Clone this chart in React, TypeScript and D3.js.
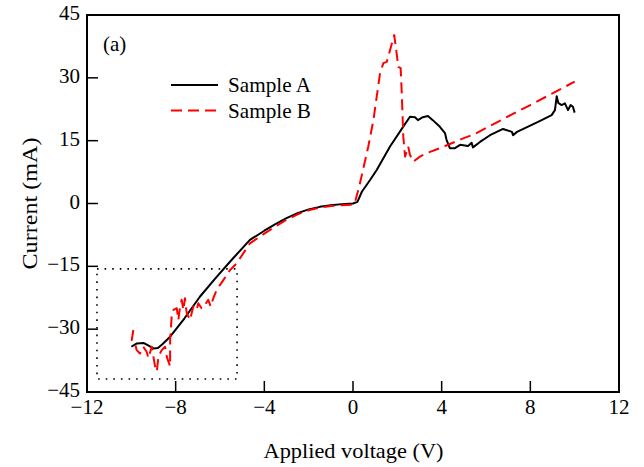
import React from "react";
import * as d3 from "d3";

const xTicks = [-12, -8, -4, 0, 4, 8, 12];
const yTicks = [-45, -30, -15, 0, 15, 30, 45];

const sampleA: [number, number][] = [
  [-10, -34.2], [-9.75, -33.4], [-9.45, -33.3], [-9.2, -34.0], [-9.0, -34.6], [-8.8, -34.5],
  [-8.6, -33.6], [-8.25, -31.8], [-7.6, -27.4], [-6.9, -22.2], [-6.2, -17.8], [-5.5, -13.6],
  [-4.65, -8.7], [-4, -6.5], [-3.5, -4.9], [-3, -3.5], [-2.5, -2.3], [-2, -1.4], [-1.5, -0.8],
  [-1, -0.4], [-0.5, -0.15], [0, 0], [0.2, 0.4], [0.4, 2.8], [0.77, 5.6], [1.07, 8.0],
  [1.67, 13.6], [2.26, 18.3], [2.57, 20.7], [2.8, 20.6], [2.93, 19.9], [3.15, 20.6], [3.38, 20.9],
  [3.6, 19.9], [3.92, 18.3], [4.15, 16.8], [4.22, 15.2], [4.37, 13.2], [4.6, 13.2], [4.83, 14.0],
  [5.19, 13.7], [5.35, 14.5], [5.41, 13.4], [5.73, 14.7], [6.18, 16.3], [6.77, 17.8], [7.17, 17.1],
  [7.22, 16.3], [7.4, 17.1], [8.35, 19.5], [8.96, 21.1], [9.11, 22.3], [9.19, 25.6], [9.26, 24.0],
  [9.41, 23.5], [9.56, 23.9], [9.7, 22.3], [9.82, 23.5], [9.92, 23.1], [10.0, 21.7],
];

const sampleB: [number, number][] = [
  [-9.91, -30.2], [-9.98, -32.6], [-9.83, -33.4], [-9.76, -35.0], [-9.61, -35.8], [-9.46, -34.2],
  [-9.31, -35.4], [-9.23, -36.9], [-9.08, -34.2], [-8.93, -38.9], [-8.85, -40.1], [-8.78, -36.6],
  [-8.63, -35.0], [-8.48, -34.2], [-8.4, -36.6], [-8.25, -38.9], [-8.25, -32.6], [-8.18, -27.0],
  [-8.1, -25.4], [-7.95, -25.0], [-7.88, -27.8], [-7.8, -24.6], [-7.73, -23.0], [-7.65, -25.4],
  [-7.58, -22.6], [-7.5, -26.2], [-7.35, -27.8], [-7.28, -26.2], [-7.2, -24.6], [-7.05, -25.4],
  [-6.98, -23.8], [-6.83, -25.0], [-6.68, -24.2], [-6.53, -23.0], [-6.42, -24.6], [-6.3, -22.6],
  [-6.15, -20.6], [-5.85, -18.3], [-5.55, -15.9], [-5.25, -14.3], [-4.65, -9.5], [-4, -7.2],
  [-3.5, -5.5], [-3, -3.9], [-2.5, -2.6], [-2, -1.6], [-1.5, -1.0], [-1, -0.6], [-0.5, -0.4],
  [0, -0.3], [0.1, 0.5], [0.2, 2.5], [0.3, 4.5], [0.45, 8.0], [0.69, 13.6], [0.92, 19.9],
  [1.22, 31.1], [1.37, 33.5], [1.52, 33.8], [1.67, 36.6], [1.86, 40.2], [1.97, 35.8], [2.04, 32.6],
  [2.15, 32.3], [2.2, 26.3], [2.27, 15.9], [2.35, 11.2], [2.49, 13.6], [2.57, 11.6], [2.72, 10.0],
  [3.02, 11.2], [3.32, 12.0], [3.92, 13.2], [4.37, 14.2], [5.0, 15.6], [5.5, 16.6], [6.0, 18.0],
  [7.0, 20.8], [8.0, 23.5], [9.0, 26.3], [10.0, 29.1],
];

const insetBox = { x0: -11.55, x1: -5.23, y0: -15.6, y1: -41.9 };
const legendItems = [
  { label: "Sample A", color: "#000000", dash: "" },
  { label: "Sample B", color: "#ff0000", dash: "11,6" },
];

const W = 644;
const H = 467;
const M = { left: 87, right: 619, top: 15, bottom: 392 };
const FONT = "'Liberation Serif', 'Times New Roman', serif";

export default function App() {
  const x = d3.scaleLinear().domain([-12, 12]).range([M.left, M.right]);
  const y = d3.scaleLinear().domain([-45, 45]).range([M.bottom, M.top]);
  const line = d3
    .line<[number, number]>()
    .x((d) => x(d[0]))
    .y((d) => y(d[1]));
  const fmt = (v: number) => (v < 0 ? "\u2212" + Math.abs(v) : String(v));
  const tickLen = 11;

  return (
    <svg width={W} height={H} style={{ position: "absolute", left: 0, top: 0, background: "#fff" }} fontFamily={FONT}>
      <rect x={0} y={0} width={W} height={H} fill="#fff" />
      <rect
        x={x(insetBox.x0)}
        y={y(insetBox.y0)}
        width={x(insetBox.x1) - x(insetBox.x0)}
        height={y(insetBox.y1) - y(insetBox.y0)}
        fill="none"
        stroke="#000"
        strokeWidth={1.6}
        strokeDasharray="1.6,6"
      />
      <path d={line(sampleA) || ""} fill="none" stroke="#000" strokeWidth={2} strokeLinejoin="round" />
      <path d={line(sampleB) || ""} fill="none" stroke="#ff0000" strokeWidth={2} strokeDasharray="11,6" strokeLinejoin="round" />
      <rect x={M.left} y={M.top} width={M.right - M.left} height={M.bottom - M.top} fill="none" stroke="#000" strokeWidth={2} />
      {xTicks.map((t) => (
        <g key={"x" + t}>
          {t !== -12 && t !== 12 && (
            <line x1={x(t)} x2={x(t)} y1={M.bottom} y2={M.bottom - tickLen} stroke="#000" strokeWidth={1.5} />
          )}
          <text x={x(t)} y={414} textAnchor="middle" fontSize={21}>
            {fmt(t)}
          </text>
        </g>
      ))}
      {yTicks.map((t) => (
        <g key={"y" + t}>
          {t !== -45 && t !== 45 && (
            <line x1={M.left} x2={M.left + tickLen} y1={y(t)} y2={y(t)} stroke="#000" strokeWidth={1.5} />
          )}
          <text x={80} y={y(t) + 5} textAnchor="end" fontSize={21}>
            {fmt(t)}
          </text>
        </g>
      ))}
      <text x={353.5} y={458} textAnchor="middle" fontSize={22} textLength={180} lengthAdjust="spacingAndGlyphs">
        Applied voltage (V)
      </text>
      <text
        transform={`translate(37,${(M.top + M.bottom) / 2}) rotate(-90)`}
        textAnchor="middle"
        fontSize={22}
        textLength={132}
        lengthAdjust="spacingAndGlyphs"
      >
        Current (mA)
      </text>
      <text x={103} y={51} fontSize={21}>
        (a)
      </text>
      {legendItems.map((it, i) => (
        <g key={it.label}>
          <line x1={171} x2={218} y1={85 + i * 25.5} y2={85 + i * 25.5} stroke={it.color} strokeWidth={2} strokeDasharray={it.dash || undefined} />
          <text x={228} y={92 + i * 25.5} fontSize={21} textLength={83} lengthAdjust="spacingAndGlyphs">
            {it.label}
          </text>
        </g>
      ))}
    </svg>
  );
}
